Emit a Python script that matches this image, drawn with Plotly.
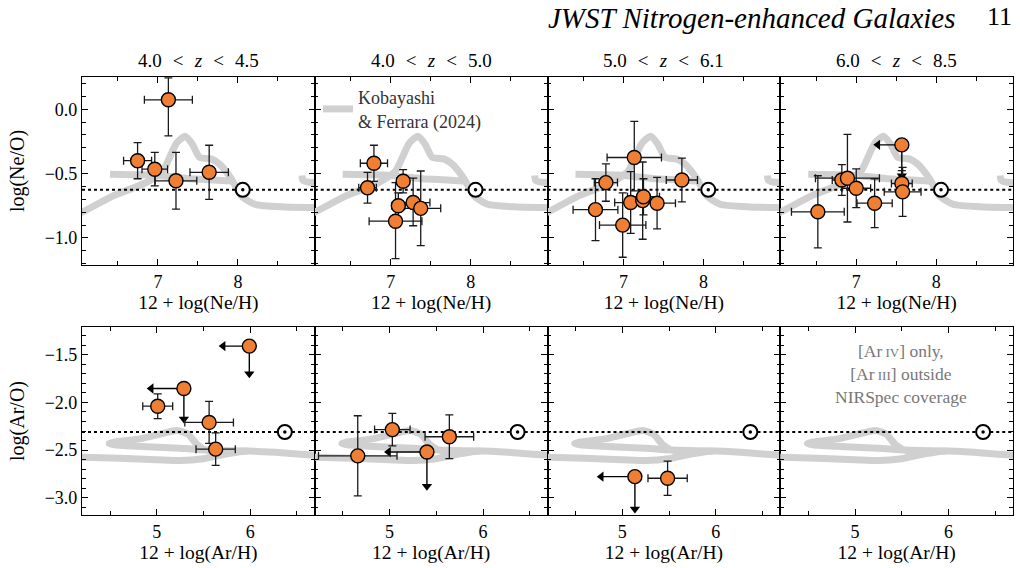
import plotly.graph_objects as go

# ---------------- data ----------------
col_titles = ["4.0\u2004 < \u2004<i>z</i>\u2004 < \u20044.5", "4.0\u2004 < \u2004<i>z</i>\u2004 < \u20045.0",
              "5.0\u2004 < \u2004<i>z</i>\u2004 < \u20046.1", "6.0\u2004 < \u2004<i>z</i>\u2004 < \u20048.5"]

# log(Ne/O) vs 12+log(Ne/H), one list per redshift panel
ne_x = [[7.13, 6.745, 6.96, 7.225, 7.64],
        [6.79, 6.71, 7.155, 7.095, 7.28, 7.375, 7.06],
        [7.135, 6.78, 7.73, 6.65, 6.99, 7.09, 7.24, 7.25, 7.42],
        [7.57, 7.58, 6.82, 6.89, 7.0, 7.23, 6.52]]
ne_y = [[0.073, -0.40, -0.466, -0.556, -0.49],
        [-0.42, -0.61, -0.56, -0.75, -0.725, -0.77, -0.87],
        [-0.375, -0.57, -0.55, -0.78, -0.90, -0.725, -0.71, -0.68, -0.73],
        [-0.577, -0.642, -0.55, -0.536, -0.614, -0.73, -0.797]]
ne_xerr = [[0.30, 0.175, 0.16, 0.26, 0.24],
           [0.17, 0.11, 0.08, 0.08, 0.21, 0.25, 0.33],
           [0.34, 0.145, 0.195, 0.28, 0.29, 0.20, 0.10, 0.20, 0.23],
           [0.13, 0.23, 0.12, 0.40, 0.18, 0.22, 0.33]]
ne_yerr_hi = [[0.17, 0.14, 0.13, 0.22, 0.21],
              [0.14, 0.12, 0.09, 0.10, 0.19, 0.29, 0.30],
              [0.28, 0.145, 0.17, 0.24, 0.25, 0.24, 0.30, 0.14, 0.20],
              [0.10, 0.19, 0.12, 0.34, 0.15, 0.19, 0.28]]
ne_yerr_lo = [[0.28, 0.14, 0.13, 0.22, 0.21],
              [0.14, 0.12, 0.09, 0.10, 0.18, 0.29, 0.29],
              [0.26, 0.145, 0.17, 0.24, 0.25, 0.24, 0.30, 0.14, 0.20],
              [0.10, 0.19, 0.12, 0.34, 0.15, 0.19, 0.28]]
# upper limits (arrows): position and arrow lengths
ne_lim_x = [[], [], [], [7.57]]
ne_lim_y = [[], [], [], [-0.277]]
ne_lim_dx = [[], [], [], [0.30]]
ne_lim_dy = [[], [], [], [0.24]]

# log(Ar/O) vs 12+log(Ar/H)
ar_x = [[5.01, 5.56, 5.63], [5.03, 5.64, 4.66], [5.485], []]
ar_y = [[-2.04, -2.21, -2.49], [-2.285, -2.36, -2.56], [-2.795], []]
ar_xerr = [[0.16, 0.26, 0.21], [0.19, 0.26, 0.42], [0.21], []]
ar_yerr = [[0.13, 0.22, 0.17], [0.17, 0.23, 0.42], [0.18], []]
ar_lim_x = [[5.99, 5.29], [5.40], [5.135], []]
ar_lim_y = [[-1.41, -1.854], [-2.52], [-2.778], []]
ar_lim_dx = [[0.28, 0.35], [0.41], [0.36], []]
ar_lim_dy = [[0.29, 0.32], [0.36], [0.34], []]

# solar values
sun_ne = (8.06, -0.626)
sun_ar = (6.37, -2.31)

# Kobayashi & Ferrara (2024) model tracks (segments)
kf_ne_x = [[5.8, 6.05, 6.44, 6.85, 7.06, 7.23, 7.34, 7.43, 7.52, 7.67, 7.77, 7.92, 8.04, 8.21, 8.58, 9.0, 9.2],
           [6.40, 6.8, 7.1, 7.4, 7.7, 7.95],
           [8.80, 8.81, 8.86, 9.2]]
kf_ne_y = [[-0.87, -0.80, -0.673, -0.57, -0.48, -0.265, -0.21, -0.272, -0.375, -0.388, -0.427, -0.544, -0.673, -0.738, -0.759, -0.764, -0.77],
           [-0.505, -0.51, -0.52, -0.54, -0.55, -0.56],
           [-0.515, -0.55, -0.565, -0.575]]
kf_ar_x = [[3.9, 4.2, 4.6, 5.0, 5.25, 5.5, 5.75, 5.97, 6.3, 6.7, 7.0],
           [5.97, 5.53, 5.43, 5.33, 5.22, 5.0, 4.8, 4.55, 4.49, 4.55, 4.89, 5.25, 5.53, 5.97]]
kf_ar_y = [[-2.57, -2.575, -2.585, -2.60, -2.61, -2.59, -2.54, -2.51, -2.525, -2.555, -2.57],
           [-2.51, -2.50, -2.44, -2.33, -2.295, -2.34, -2.385, -2.415, -2.43, -2.445, -2.465, -2.48, -2.50, -2.51]]

# axis limits
ne_xlim = [6.05, 8.96]
ne_ylim = [-1.21, 0.25]
ar_xlim = [4.2, 6.69]
ar_ylim = [-3.18, -1.21]

# ---------------- style ----------------
ORANGE = "#F07F33"
GREY = "#D0D0D0"
SERIF = "Liberation Serif"
L, R, T, B = 82, 7, 77, 53
W, H = 1020, 568
PH = H - T - B

fig = go.Figure()


def px_y(py):
    return (H - B - py) / PH


row_dom = [[px_y(265), 1.0], [0.0, px_y(327)]]

for row in range(2):
    for col in range(4):
        idx = row * 4 + col + 1
        xa = "x" if idx == 1 else f"x{idx}"
        ya = "y" if idx == 1 else f"y{idx}"
        if row == 0:
            tx, ty, xs, ys, xe, yh, yl = kf_ne_x, kf_ne_y, ne_x[col], ne_y[col], ne_xerr[col], ne_yerr_hi[col], ne_yerr_lo[col]
            lx, ly, ldx, ldy = ne_lim_x[col], ne_lim_y[col], ne_lim_dx[col], ne_lim_dy[col]
            sun = sun_ne
            xlim, ylim = ne_xlim, ne_ylim
        else:
            tx, ty, xs, ys, xe, yh, yl = kf_ar_x, kf_ar_y, ar_x[col], ar_y[col], ar_xerr[col], ar_yerr[col], ar_yerr[col]
            lx, ly, ldx, ldy = ar_lim_x[col], ar_lim_y[col], ar_lim_dx[col], ar_lim_dy[col]
            sun = sun_ar
            xlim, ylim = ar_xlim, ar_ylim

        # model tracks
        for k, (sx, sy) in enumerate(zip(tx, ty)):
            show = row == 0 and col == 1 and k == 0
            fig.add_trace(go.Scatter(
                x=sx, y=sy, mode="lines", xaxis=xa, yaxis=ya,
                line=dict(color=GREY, width=7, shape="spline", smoothing=0.6),
                name="Kobayashi<br>& Ferrara (2024)", showlegend=show,
                hoverinfo="skip"))
        # solar dotted line
        fig.add_trace(go.Scatter(
            x=xlim, y=[sun[1], sun[1]], mode="lines", xaxis=xa, yaxis=ya,
            line=dict(color="black", width=2, dash="dot"), showlegend=False,
            hoverinfo="skip"))
        # solar symbol
        fig.add_trace(go.Scatter(
            x=[sun[0]], y=[sun[1]], mode="markers", xaxis=xa, yaxis=ya,
            marker=dict(symbol="circle", size=14, color="white",
                        line=dict(color="black", width=2)),
            showlegend=False, hoverinfo="skip"))
        fig.add_trace(go.Scatter(
            x=[sun[0]], y=[sun[1]], mode="markers", xaxis=xa, yaxis=ya,
            marker=dict(symbol="circle", size=3.5, color="black"),
            showlegend=False, hoverinfo="skip"))
        # upper-limit arrows
        for x0, y0, dx, dy in zip(lx, ly, ldx, ldy):
            fig.add_trace(go.Scatter(
                x=[x0 - dx, x0, x0], y=[y0, y0, y0 - dy], mode="lines",
                xaxis=xa, yaxis=ya, line=dict(color="black", width=1.4),
                showlegend=False, hoverinfo="skip"))
            fig.add_trace(go.Scatter(
                x=[x0 - dx], y=[y0], mode="markers", xaxis=xa, yaxis=ya,
                marker=dict(symbol="triangle-left", size=9, color="black"),
                showlegend=False, hoverinfo="skip"))
            fig.add_trace(go.Scatter(
                x=[x0], y=[y0 - dy], mode="markers", xaxis=xa, yaxis=ya,
                marker=dict(symbol="triangle-down", size=9, color="black"),
                showlegend=False, hoverinfo="skip"))
            fig.add_trace(go.Scatter(
                x=[x0], y=[y0], mode="markers", xaxis=xa, yaxis=ya,
                marker=dict(symbol="circle", size=14, color=ORANGE,
                            line=dict(color="black", width=1.4)),
                showlegend=False, hoverinfo="skip"))
        # measurements
        if xs:
            fig.add_trace(go.Scatter(
                x=xs, y=ys, mode="markers", xaxis=xa, yaxis=ya,
                error_x=dict(type="data", array=xe, color="#1a1a1a", thickness=1.3, width=4),
                error_y=dict(type="data", array=yh, arrayminus=yl, symmetric=False,
                             color="#1a1a1a", thickness=1.3, width=4),
                marker=dict(symbol="circle", size=14, color=ORANGE,
                            line=dict(color="black", width=1.4)),
                showlegend=False, hoverinfo="skip"))

        # axes
        xkey = "xaxis" if idx == 1 else f"xaxis{idx}"
        ykey = "yaxis" if idx == 1 else f"yaxis{idx}"
        common = dict(showline=True, mirror="allticks", linecolor="black", linewidth=1.2,
                      ticks="inside", ticklen=6, tickwidth=1.2, tickcolor="black",
                      showgrid=False, zeroline=False,
                      tickfont=dict(family=SERIF, size=18, color="black"))
        xtitle = "12 + log(Ne/H)" if row == 0 else "12 + log(Ar/H)"
        fig.layout[xkey] = dict(
            common, domain=[col / 4, (col + 1) / 4], anchor=ya, range=xlim,
            dtick=1, tick0=0,
            minor=dict(ticks="inside", ticklen=3.5, tickwidth=1, dtick=0.5, tick0=0, tickcolor="black"),
            title=dict(text=xtitle, font=dict(family=SERIF, size=19.5, color="black"), standoff=1))
        ytitle = "log(Ne/O)" if row == 0 else "log(Ar/O)"
        fig.layout[ykey] = dict(
            common, domain=row_dom[row], anchor=xa, range=ylim,
            dtick=0.5, tick0=0, tickformat=".1f", showticklabels=(col == 0),
            minor=dict(ticks="inside", ticklen=3.5, tickwidth=1, dtick=0.1, tick0=0, tickcolor="black"),
            title=dict(text=ytitle if col == 0 else "", font=dict(family=SERIF, size=20, color="black"),
                       standoff=14))

annotations = []
for col, t in enumerate(col_titles):
    annotations.append(dict(text=t, xref="paper", yref="paper", x=(col + 0.5) / 4, y=1.0,
                            yshift=4, yanchor="bottom", xanchor="center", showarrow=False,
                            font=dict(family=SERIF, size=19, color="black")))
annotations.append(dict(text="<i>JWST Nitrogen-enhanced Galaxies</i>", xref="paper", yref="paper",
                        x=(957 - L) / (W - L - R), y=px_y(1), xanchor="right", yanchor="top",
                        borderpad=0, showarrow=False, font=dict(family=SERIF, size=29, color="black")))
annotations.append(dict(text="11", xref="paper", yref="paper", x=1.0, y=px_y(1),
                        xanchor="right", yanchor="top", borderpad=0, showarrow=False,
                        font=dict(family=SERIF, size=26, color="black")))
annotations.append(dict(
    text="[Ar<span style='font-size:13px'> IV</span>] only,<br>[Ar<span style='font-size:13px'> III</span>] outside<br>NIRSpec coverage",
    xref="x8 domain", yref="y8 domain", x=0.52, y=0.75, xanchor="center", yanchor="middle",
    showarrow=False, align="center", font=dict(family=SERIF, size=17.5, color="#777777")))

fig.update_layout(
    width=W, height=H, margin=dict(l=L, r=R, t=T, b=B),
    paper_bgcolor="white", plot_bgcolor="white",
    annotations=annotations,
    legend=dict(x=(318 - L) / (W - L - R), y=px_y(79), xanchor="left", yanchor="top",
                bgcolor="rgba(0,0,0,0)", font=dict(family=SERIF, size=18, color="#333333"),
                itemwidth=30, tracegroupgap=0),
    showlegend=True,
)

fig.write_html("out.html")
